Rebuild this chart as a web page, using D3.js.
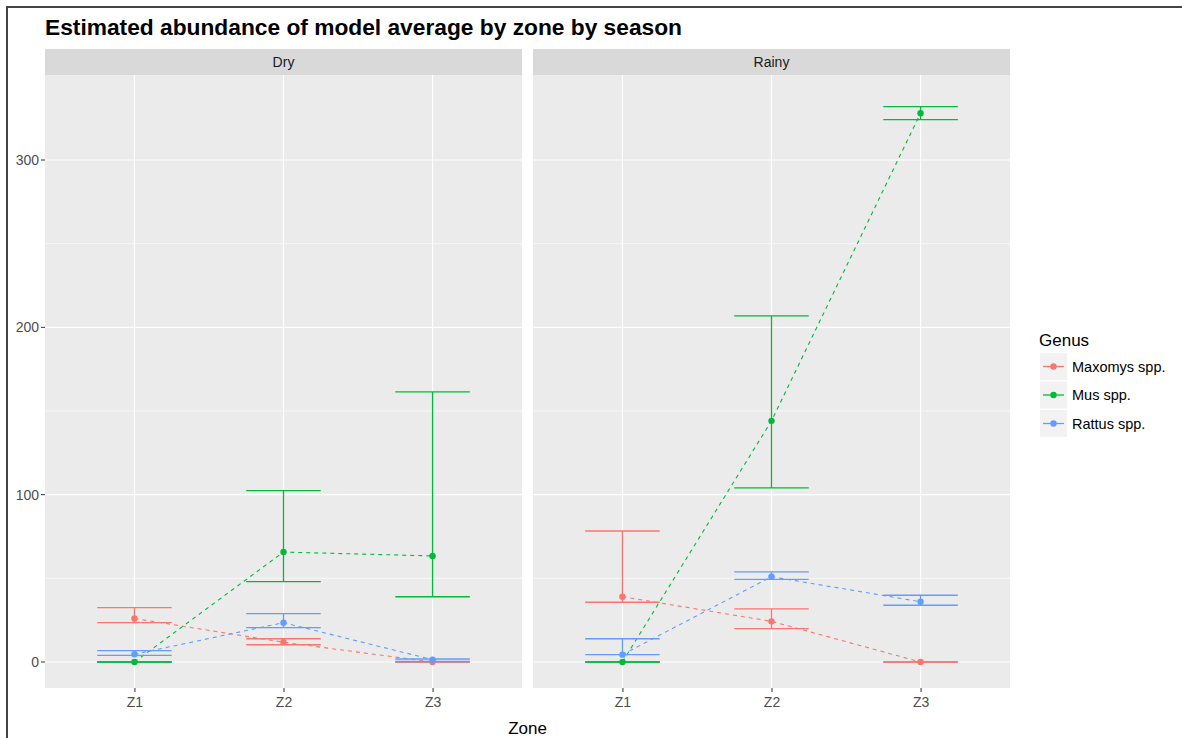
<!DOCTYPE html>
<html>
<head>
<meta charset="utf-8">
<script src="https://cdn.jsdelivr.net/npm/d3@7"></script>
<style>
  body { margin: 0; background: #fff; }
  svg { display: block; font-family: "Liberation Sans", Arial, sans-serif; }
</style>
</head>
<body>
<svg id="chart" width="1182" height="738"></svg>
<script>
// Data
var zones = ["Z1", "Z2", "Z3"];
var seasons = ["Dry", "Rainy"];
var genera = ["Maxomys spp.", "Mus spp.", "Rattus spp."];
var yTicks = [0, 100, 200, 300];

// estimate, lower and upper bound per zone
var dryMaxomys = [26.0, 11.8, 0];
var dryMaxomysLo = [23.5, 10.3, 0];
var dryMaxomysHi = [32.5, 13.9, 0];
var dryMus = [0, 65.7, 63.4];
var dryMusLo = [0, 48.0, 39.0];
var dryMusHi = [0, 102.4, 161.4];
var dryRattus = [4.6, 23.5, 1.4];
var dryRattusLo = [4.0, 20.5, 0.3];
var dryRattusHi = [6.8, 28.9, 1.8];

var rainyMaxomys = [39.0, 24.3, 0];
var rainyMaxomysLo = [35.7, 19.9, 0];
var rainyMaxomysHi = [78.3, 31.7, 0];
var rainyMus = [0, 144.1, 328.0];
var rainyMusLo = [0, 104.0, 324.1];
var rainyMusHi = [0, 206.8, 331.9];
var rainyRattus = [4.4, 51.0, 36.0];
var rainyRattusLo = [4.4, 49.4, 33.9];
var rainyRattusHi = [13.9, 53.8, 39.9];

var colours = ["#F8766D", "#00BA38", "#619CFF"];

// build rows: one per season x genus x zone
var table = {
    Dry: [[dryMaxomys, dryMaxomysLo, dryMaxomysHi], [dryMus, dryMusLo, dryMusHi], [dryRattus, dryRattusLo, dryRattusHi]],
    Rainy: [[rainyMaxomys, rainyMaxomysLo, rainyMaxomysHi], [rainyMus, rainyMusLo, rainyMusHi], [rainyRattus, rainyRattusLo, rainyRattusHi]]
};

var svg = d3.select("#chart");

// Dimension
var panel = { top: 75, bottom: 688, width: 477, gap: 11, left: 45 };
var stripH = 26;

// window frame of the screenshot
svg.append("line").attr("x1", 6).attr("x2", 1182).attr("y1", 7).attr("y2", 7)
    .style("stroke", "#444").style("stroke-width", 2);
svg.append("line").attr("x1", 7).attr("x2", 7).attr("y1", 6).attr("y2", 738)
    .style("stroke", "#444").style("stroke-width", 2);

// Title
svg.append("text")
    .text("Estimated abundance of model average by zone by season")
    .attr("x", 45)
    .attr("y", 35)
    .attr("font-size", 22)
    .attr("font-weight", "bold")
    .attr("textLength", 637)
    .attr("lengthAdjust", "spacingAndGlyphs")
    .style("fill", "#000");

var y = d3.scaleLinear()
    .domain([-15.54, 350.8])
    .range([panel.bottom, panel.top]);

// Y axis labels + ticks (left of first panel)
var yAxis = svg.append("g").attr("class", "y-axis");
yTicks.forEach(function (t) {
    yAxis.append("line")
        .attr("x1", panel.left - 4).attr("x2", panel.left)
        .attr("y1", y(t)).attr("y2", y(t))
        .style("stroke", "#333").style("stroke-width", 1);
    yAxis.append("text")
        .text(t)
        .attr("x", panel.left - 6)
        .attr("y", y(t))
        .attr("dy", "0.35em")
        .attr("font-size", 14)
        .attr("text-anchor", "end")
        .style("fill", "#4D4D4D");
});

seasons.forEach(function (season, si) {
    var x0 = panel.left + si * (panel.width + panel.gap);
    var g = svg.append("g").attr("transform", "translate(" + x0 + ",0)");

    var x = d3.scalePoint()
        .domain(zones)
        .range([0, panel.width])
        .padding(0.6);
    var step = x.step();

    // Strip
    g.append("rect")
        .attr("x", 0).attr("y", panel.top - stripH)
        .attr("width", panel.width).attr("height", stripH)
        .style("fill", "#D9D9D9");
    g.append("text")
        .text(season)
        .attr("x", panel.width / 2)
        .attr("y", panel.top - stripH / 2)
        .attr("dy", "0.35em")
        .attr("font-size", 14)
        .attr("text-anchor", "middle")
        .style("fill", "#1A1A1A");

    // Panel background
    g.append("rect")
        .attr("x", 0).attr("y", panel.top)
        .attr("width", panel.width).attr("height", panel.bottom - panel.top)
        .style("fill", "#EBEBEB");

    // minor grid
    [50, 150, 250].forEach(function (t) {
        g.append("line")
            .attr("x1", 0).attr("x2", panel.width)
            .attr("y1", y(t)).attr("y2", y(t))
            .style("stroke", "#fff").style("stroke-width", 0.6);
    });
    // major grid
    yTicks.forEach(function (t) {
        g.append("line")
            .attr("x1", 0).attr("x2", panel.width)
            .attr("y1", y(t)).attr("y2", y(t))
            .style("stroke", "#fff").style("stroke-width", 1.2);
    });
    zones.forEach(function (z) {
        g.append("line")
            .attr("x1", x(z)).attr("x2", x(z))
            .attr("y1", panel.top).attr("y2", panel.bottom)
            .style("stroke", "#fff").style("stroke-width", 1.2);
    });

    // x axis
    var xAxis = d3.axisBottom(x).tickSize(4).tickPadding(5);
    var ax = g.append("g")
        .attr("transform", "translate(0," + panel.bottom + ")")
        .call(xAxis);
    ax.select(".domain").remove();
    ax.selectAll("line").style("stroke", "#333");
    ax.selectAll("text")
        .attr("font-size", 14)
        .attr("font-family", "Liberation Sans, Arial, sans-serif")
        .style("fill", "#4D4D4D");

    // Data per genus
    table[season].forEach(function (series, gi) {
        var rows = zones.map(function (z, zi) {
            return { zone: z, est: series[0][zi], lo: series[1][zi], hi: series[2][zi] };
        });
        var col = colours[gi];
        var eb = g.append("g").attr("class", "errorbars");
        var bars = eb.selectAll("g").data(rows).enter().append("g");
        bars.append("line")
            .attr("x1", d => x(d.zone)).attr("x2", d => x(d.zone))
            .attr("y1", d => y(d.lo)).attr("y2", d => y(d.hi))
            .style("stroke", col).style("stroke-width", 1.3);
        bars.append("line")
            .attr("x1", d => x(d.zone) - step / 4).attr("x2", d => x(d.zone) + step / 4)
            .attr("y1", d => y(d.lo)).attr("y2", d => y(d.lo))
            .style("stroke", col).style("stroke-width", 1.3);
        bars.append("line")
            .attr("x1", d => x(d.zone) - step / 4).attr("x2", d => x(d.zone) + step / 4)
            .attr("y1", d => y(d.hi)).attr("y2", d => y(d.hi))
            .style("stroke", col).style("stroke-width", 1.3);

        g.append("path")
            .datum(rows)
            .attr("d", d3.line().x(d => x(d.zone)).y(d => y(d.est)))
            .style("fill", "none")
            .style("stroke", col)
            .style("stroke-width", 1.1)
            .style("stroke-dasharray", "4,4");

        g.selectAll(".pt" + gi).data(rows).enter().append("circle")
            .attr("class", "pt" + gi)
            .attr("cx", d => x(d.zone))
            .attr("cy", d => y(d.est))
            .attr("r", 3.2)
            .style("fill", col);
    });
});

// X title
svg.append("text")
    .text("Zone")
    .attr("x", panel.left + (2 * panel.width + panel.gap) / 2)
    .attr("y", 734)
    .attr("font-size", 17)
    .attr("text-anchor", "middle")
    .style("fill", "#000");

// Legend
var legend = svg.append("g").attr("transform", "translate(1039,0)");
legend.append("text")
    .text("Genus")
    .attr("x", 0)
    .attr("y", 346)
    .attr("font-size", 17)
    .style("fill", "#000");
var keys = legend.selectAll(".key").data(genera).enter().append("g")
    .attr("class", "key")
    .attr("transform", (d, i) => "translate(1," + (353 + i * 28.5) + ")");
keys.append("rect")
    .attr("width", 27).attr("height", 27)
    .style("fill", "#F2F2F2");
keys.append("line")
    .attr("x1", 3).attr("x2", 24).attr("y1", 13.5).attr("y2", 13.5)
    .style("stroke", (d, i) => colours[i]).style("stroke-width", 1.3);
keys.append("circle")
    .attr("cx", 13.5).attr("cy", 13.5).attr("r", 3.2)
    .style("fill", (d, i) => colours[i]);
keys.append("text")
    .text(d => d)
    .attr("x", 32)
    .attr("y", 13.5)
    .attr("dy", "0.35em")
    .attr("font-size", 14.5)
    .style("fill", "#000");
</script>
</body>
</html>
